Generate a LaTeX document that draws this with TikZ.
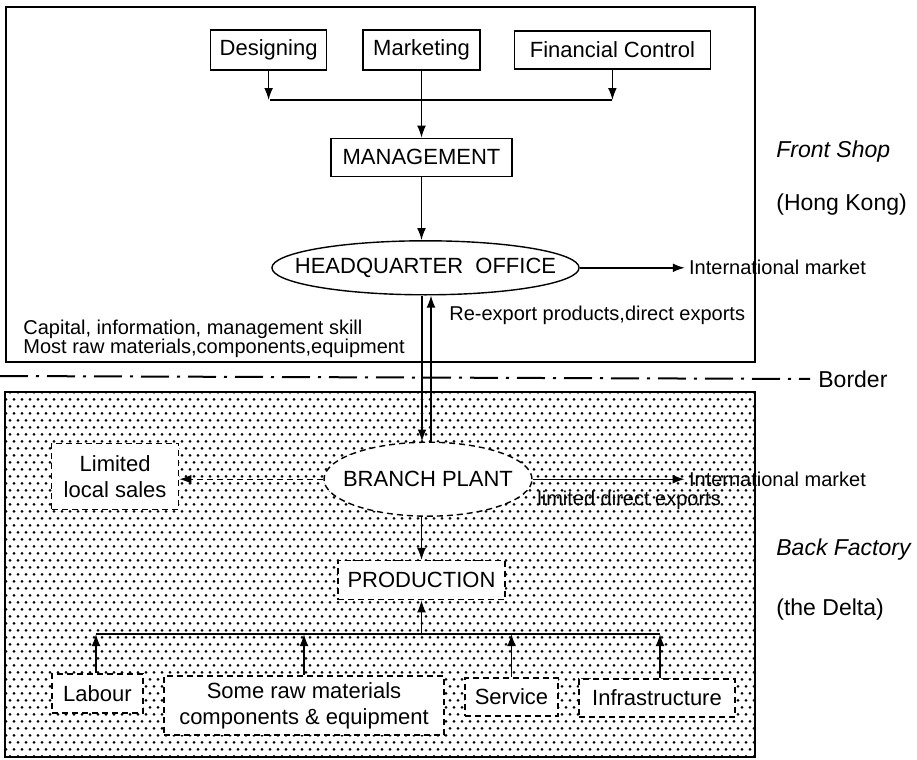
\documentclass[tikz,border=0pt]{standalone}
\usepackage{fontspec}
\setmainfont{Liberation Sans}
\usetikzlibrary{positioning,shapes.geometric,patterns,arrows.meta}

\pgfdeclarepatternformonly{deltadots}{\pgfqpoint{-1pt}{-1pt}}{\pgfqpoint{5pt}{8pt}}{\pgfqpoint{4pt}{7pt}}{%
  \pgfpathcircle{\pgfqpoint{1pt}{1.75pt}}{.75pt}%
  \pgfpathcircle{\pgfqpoint{3pt}{5.25pt}}{.75pt}%
  \pgfusepath{fill}}

\begin{document}
\begin{tikzpicture}[
x=0.5pt, y=-0.5pt,
node distance = 33pt and 17pt,
box/.style={rectangle, draw=black, line width=0.7pt, inner sep=2pt, font=\fontsize{11}{13}\selectfont},
dashbox/.style={box, dash pattern=on 3pt off 2pt, fill=white},
oval/.style={ellipse, draw=black, line width=0.7pt, inner ysep=0pt, fill=white, font=\fontsize{11}{13}\selectfont},
dashoval/.style={oval, dash pattern=on 3pt off 2pt},
lbl/.style={inner sep=2pt},
side/.style={inner sep=2pt, font=\fontsize{11.5}{13}\selectfont\itshape},
sidetxt/.style={inner sep=2pt, font=\fontsize{11.5}{13}\selectfont},
frame/.style={line width=0.9pt},
arr/.style={-{Latex[length=6pt,width=4.4pt]}, line width=0.7pt},
darr/.style={arr, dash pattern=on 3pt off 2pt}]

\useasboundingbox (0,0) rectangle (917,760);

% front shop and back factory
\draw[frame] (6,7) rectangle (755,362);
\fill[pattern=deltadots] (5,392) rectangle (755,757);
\draw[frame] (5,392) rectangle (755,757);

\node[sidetxt, anchor=west] (bord) at (814,379) {Border};
\coordinate (b0) at (0,376);
\draw[line width=1pt, dash pattern=on 14pt off 4pt on 1.5pt off 4pt, shorten >=2pt] (b0) -- (bord.west);

\node[side, anchor=west] (fs) at (772,152) {Front Shop};
\node[sidetxt, anchor=west] (hk) at (772,205) {(Hong Kong)};
\node[side, anchor=west] (bf) at (772,550) {Back Factory};
\node[sidetxt, anchor=west] (td) at (772,610) {(the Delta)};

% upper part
\node[box, minimum width=58.5pt, minimum height=20pt] (mkt) at (421.5,50) {Marketing};
\node[box, minimum width=58pt, minimum height=20pt] (des) [left=17.5pt of mkt] {Designing};
\node[box, minimum width=98pt, minimum height=19pt] (fin) [right=16.5pt of mkt] {Financial Control};
\node[box, minimum width=90.5pt, minimum height=19pt] (mgmt) [below=33.5pt of mkt] {MANAGEMENT};
\node[oval, inner xsep=-11pt, minimum width=153.5pt, minimum height=27pt] (hq) [below=31.5pt of mgmt, xshift=2pt] {HEADQUARTER~~OFFICE};
\node[lbl] (im1) [right=52.5pt of hq] {International market};

\coordinate (tl) at (270,100);
\coordinate (tr) at (612,100);
\draw[line width=0.7pt] (tl) -- (tr);
\draw[arr] (des) -- (des |- tl);
\draw[arr] (fin) -- (fin |- tr);
\draw[arr] (mkt) -- (mgmt);
\draw[arr] (mgmt) -- (mgmt |- hq.north);
\draw[arr] (hq) -- (im1);

\node[lbl, anchor=west] (rex) at (445,315) {Re-export products,direct exports};
\node[lbl, anchor=west, align=left, font=\fontsize{10}{9.5}\selectfont] (cap) at (19,338.5)
  {Capital, information, management skill\\Most raw materials,components,equipment};

% lower part
\node[dashoval, inner xsep=-6pt, minimum width=104pt, minimum height=37pt] (bp) [below=73pt of hq, xshift=1.25pt] {BRANCH PLANT};
\node[dashbox, minimum width=63.5pt, minimum height=33pt, align=center] (loc) [left=72pt of bp, yshift=1.5pt] {Limited\\local sales};
\node[lbl] (im2) [right=76pt of bp] {International market};
\node[lbl, anchor=west] (lde) at (533,500) {limited direct exports};
\node[dashbox, minimum width=83.5pt, minimum height=19.5pt] (prod) [below=21.5pt of bp, xshift=-3.25pt] {PRODUCTION};

\draw[arr] ([xshift=-1.75pt]hq.south) -- ([xshift=-1.75pt]hq.south |- bp.north);
\draw[arr] ([xshift=2.75pt]hq.south |- bp.north) -- ([xshift=2.75pt]hq.south);
\draw[darr] (bp.west) -- (loc.east |- bp.west);
\draw[arr] (bp) -- (im2);
\draw[arr] (prod |- bp.south) -- (prod);

\node[dashbox, minimum width=45.5pt, minimum height=19.5pt] (lab) at (97.5,693.5) {Labour};
\node[dashbox, minimum width=140pt, minimum height=29.5pt, align=center] (raw) at (304,705.5) {Some raw materials\\components \& equipment};
\node[dashbox, minimum width=46.5pt, minimum height=19pt] (serv) at (511.5,697) {Service};
\node[dashbox, minimum width=78pt, minimum height=19pt] (infra) at (657,698) {Infrastructure};

\coordinate (jl) at (96,634);
\coordinate (jr) at (660,634);
\draw[line width=0.7pt] (jl) -- (jr);
\draw[arr] (lab.north -| jl) -- (jl);
\draw[arr] (raw) -- (raw |- jl);
\draw[arr] (serv) -- (serv |- jl);
\draw[arr] (infra.north -| jr) -- (jr);
\draw[arr] (prod |- jl) -- (prod);
\end{tikzpicture}
\end{document}
